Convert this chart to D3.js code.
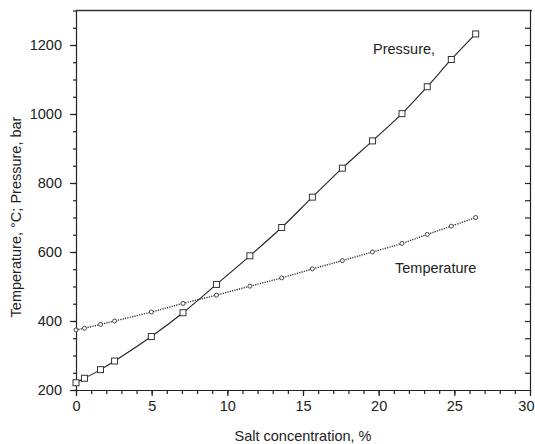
<!DOCTYPE html>
<html>
<head>
<meta charset="utf-8">
<script src="https://cdn.jsdelivr.net/npm/d3@7"></script>
<style>
  html, body { margin: 0; padding: 0; background: #fff; }
  svg { display: block; }
  text { font-family: "Liberation Sans", Arial, sans-serif; fill: #222; }
</style>
</head>
<body>
<svg id="chart" width="535" height="444"></svg>
<script>
// Salt concentration (%) at each measured point
const saltConc = [0, 0.56, 1.62, 2.55, 4.98, 7.07, 9.28, 11.49, 13.59, 15.62, 17.6, 19.59, 21.54, 23.21, 24.8, 26.41];
// Critical pressure, bar
const pressure = [221, 234, 259, 284, 355, 424, 506, 589, 671, 759, 843, 922, 1001, 1079, 1158, 1232];
// Critical temperature, °C
const temperature = [374, 379, 390, 400, 426, 451, 475, 501, 525, 551, 575, 600, 625, 651, 675, 700];

const xTicks = [0, 5, 10, 15, 20, 25, 30];
const yTicks = [200, 400, 600, 800, 1000, 1200];

const svg = d3.select("#chart");
const plotLeft = 76, plotRight = 530, plotTop = 10.5, plotBottom = 390;

const x = d3.scaleLinear().domain([0, 30]).range([plotLeft, plotRight]);
const y = d3.scaleLinear().domain([200, 1300]).range([plotBottom, plotTop]);

const ink = "#222";

// Minor ticks
const xMinor = d3.range(0, 31, 1);
const yMinor = d3.range(200, 1301, 50);

// Bottom axis
const gx = svg.append("g").attr("transform", `translate(0,${plotBottom})`);
gx.append("g").call(d3.axisBottom(x).tickValues(xMinor).tickSize(4).tickFormat(""))
  .call(g => g.select(".domain").remove());
gx.append("g").call(d3.axisBottom(x).tickValues(xTicks).tickSize(6).tickSizeOuter(0).tickPadding(5).tickFormat(d3.format("d")))
  .call(g => g.selectAll("text").style("font-size", "14.5px").attr("fill", ink))
  // keep the last label inside the right edge of the page
  .call(g => g.selectAll(".tick text").filter(d => d === 30).attr("text-anchor", "end").attr("dx", 4));

// Left axis
const gy = svg.append("g").attr("transform", `translate(${plotLeft},0)`);
gy.append("g").call(d3.axisLeft(y).tickValues(yMinor).tickSize(3).tickFormat(""))
  .call(g => g.select(".domain").remove());
gy.append("g").call(d3.axisLeft(y).tickValues(yTicks).tickSize(6).tickSizeOuter(0).tickPadding(8).tickFormat(d3.format("d")))
  .call(g => g.selectAll("text").style("font-size", "14.5px").attr("fill", ink));

// Right axis, ticks pointing inward
svg.append("g").attr("transform", `translate(${plotRight},0)`)
  .call(d3.axisLeft(y).tickValues(yMinor.filter(v => v > 200 && v < 1300)).tickSize(5).tickSizeOuter(0).tickFormat(""));

// Top frame line
svg.append("line").attr("x1", plotLeft).attr("x2", plotRight + 2).attr("y1", plotTop).attr("y2", plotTop)
  .attr("stroke", "#333").attr("stroke-width", 1.6);

svg.selectAll(".domain, .tick line").attr("stroke", ink).attr("stroke-width", 1.2);

// Curves
const pressurePts = saltConc.map((c, i) => [c, pressure[i]]);
const tempPts = saltConc.map((c, i) => [c, temperature[i]]);
const line = d3.line().x(d => x(d[0])).y(d => y(d[1])).curve(d3.curveCatmullRom.alpha(0.5));

svg.append("path").datum(pressurePts).attr("d", line)
  .attr("fill", "none").attr("stroke", "#222").attr("stroke-width", 1.1);
svg.append("path").datum(tempPts).attr("d", line)
  .attr("fill", "none").attr("stroke", "#333").attr("stroke-width", 1.4)
  .attr("stroke-dasharray", "1.2,1.2");

// Markers
svg.selectAll(".psq").data(pressurePts).join("rect")
  .attr("x", d => x(d[0]) - 3).attr("y", d => y(d[1]) - 3)
  .attr("width", 6).attr("height", 6)
  .attr("fill", "#fff").attr("stroke", "#333").attr("stroke-width", 1);
svg.selectAll(".tci").data(tempPts).join("circle")
  .attr("cx", d => x(d[0])).attr("cy", d => y(d[1])).attr("r", 2)
  .attr("fill", "#fff").attr("stroke", "#333").attr("stroke-width", 0.9);

// Series labels
svg.append("text").attr("x", 373).attr("y", 54).style("font-size", "14.5px").text("Pressure,");
svg.append("text").attr("x", 395).attr("y", 273).style("font-size", "14.5px").text("Temperature");

// Axis titles
svg.append("text").attr("x", (plotLeft + plotRight) / 2).attr("y", 441)
  .attr("text-anchor", "middle").style("font-size", "14.5px").text("Salt concentration, %");
svg.append("text").attr("transform", "translate(21,217) rotate(-90)")
  .attr("text-anchor", "middle").style("font-size", "14.5px").text("Temperature, °C; Pressure, bar");
</script>
</body>
</html>
